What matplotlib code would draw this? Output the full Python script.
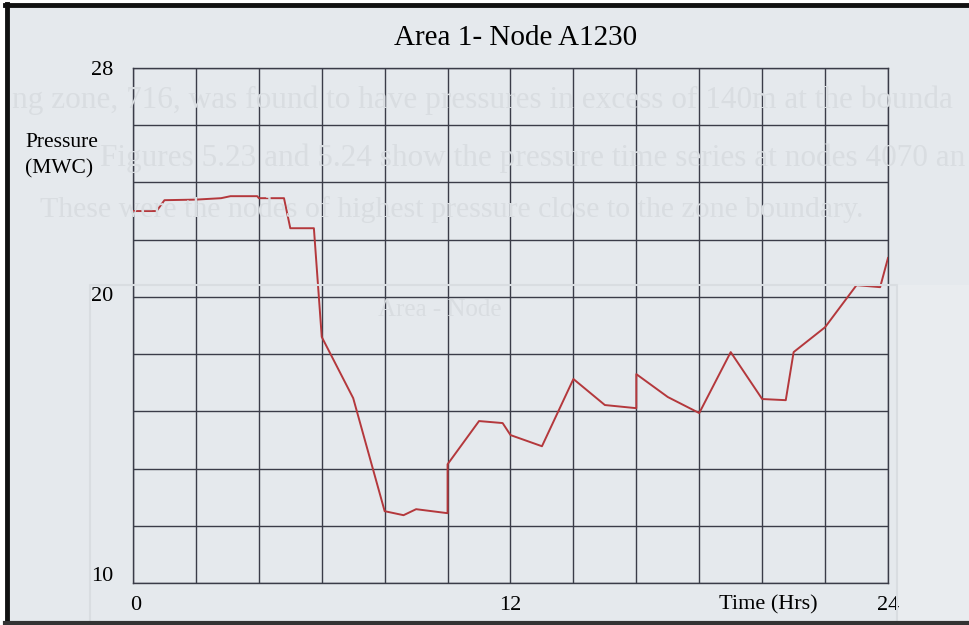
import matplotlib.pyplot as plt
from matplotlib.lines import Line2D

# Pressure readings at node A1230 over one day
hours = [0, 0.75, 1.0, 2.0, 2.8, 3.1, 3.95, 4.0, 4.8, 5.0, 5.75, 6.0, 7.0, 8.0,
         8.6, 9.0, 10.0, 10.0, 11.0, 11.75, 12.0, 13.0, 14.0, 15.0, 16.0, 16.0,
         17.0, 18.0, 19.0, 20.0, 20.75, 21.0, 22.0, 23.0, 23.75, 24.0]
pressure = [23.0, 23.0, 23.38, 23.4, 23.45, 23.52, 23.52, 23.45, 23.45, 22.4, 22.4,
            18.6, 16.46, 12.51, 12.37, 12.58, 12.44, 14.15, 15.66, 15.59, 15.17,
            14.78, 17.13, 16.22, 16.11, 17.3, 16.5, 15.94, 18.07, 16.43, 16.39,
            18.07, 18.94, 20.41, 20.34, 21.36]

y_ticks = [28, 20, 10]
x_ticks = [0, 12, 24]

# faint text showing through from the other side of the page
back_lines = [
    "ng zone, 716, was found to have pressures in excess of 140m at the bounda",
    "Figures 5.23 and 5.24 show the pressure time series at nodes 4070 an",
    "These were the nodes of highest pressure close to the zone boundary.",
]

W, H = 970, 625
fig = plt.figure(figsize=(W / 100, H / 100), dpi=100)
fig.patch.set_facecolor("#e5e9ed")

serif = "Liberation Serif"
ghost = "#d9dde1"

def fx(px):
    return px / W

def fy(py):
    return 1 - py / H

# scanned page edges
fig.add_artist(plt.Rectangle((0, 0), fx(5), 1, transform=fig.transFigure,
                             color="white", zorder=0))
fig.add_artist(plt.Rectangle((0, fy(3)), 1, 1, transform=fig.transFigure,
                             color="white", zorder=0))
fig.add_artist(plt.Rectangle((fx(897), 0), 1, fy(285), transform=fig.transFigure,
                             color="#e9ecef", zorder=0))
fig.add_artist(Line2D([fx(7), fx(7)], [0, fy(4)], transform=fig.transFigure,
                      color="#111111", lw=3.5, zorder=1))
fig.add_artist(Line2D([fx(5), 1], [fy(5), fy(5)], transform=fig.transFigure,
                      color="#111111", lw=3.5, zorder=1))
fig.add_artist(Line2D([fx(5), 1], [fy(623), fy(623)], transform=fig.transFigure,
                      color="#333333", lw=3, zorder=1))

# bleed-through from the reverse side
for (x0, y0, fs), line in zip([(12, 100, 22.5), (100, 158, 22.5), (40, 210, 21.5)],
                              back_lines):
    fig.text(fx(x0), fy(y0), line, fontsize=fs, family=serif, color=ghost,
             va="center", ha="left", zorder=0.5)
fig.text(fx(440), fy(310), "Area - Node", fontsize=18, family=serif, color=ghost,
         va="center", ha="center", zorder=0.5)
fig.add_artist(Line2D([fx(90), fx(90), fx(897), fx(897)], [0, fy(285), fy(285), 0],
                      transform=fig.transFigure, color=ghost, lw=1.5, zorder=0.5))

ax = fig.add_axes([fx(133), fy(583), fx(888) - fx(133), fy(68) - fy(583)])
ax.set_facecolor("none")
ax.set_xlim(0, 24)
ax.set_ylim(10, 28)
ax.set_xticks(range(0, 25, 2))
ax.set_yticks(range(10, 29, 2))
ax.tick_params(length=0, labelbottom=False, labelleft=False)
ax.grid(True, color="#3a3c48", lw=1.0)
for s in ax.spines.values():
    s.set_color("#3a3c48")
    s.set_linewidth(1.0)

ax.plot(hours, pressure, color="#b4383c", lw=1.4, zorder=3)

fig.text(fx(516), fy(38), "Area 1- Node A1230", fontsize=21, family=serif,
         ha="center", va="center")
fig.text(fx(25), fy(142), "Pressure", fontsize=15.5, family=serif,
         ha="left", va="center")
fig.text(fx(25), fy(169), "(MWC)", fontsize=15.5, family=serif,
         ha="left", va="center")

for v in y_ticks:
    off = 5 if v == 10 else (-2 if v == 28 else 0)
    ax.annotate(str(v), (0, v), xytext=(-14, off), textcoords="offset points",
                ha="right", va="center", fontsize=16, family=serif,
                annotation_clip=False)
for h in x_ticks:
    ax.annotate(str(h), (h, 10), xytext=(2 if h == 0 else 0, -16),
                textcoords="offset points", ha="center", va="center",
                fontsize=16, family=serif, annotation_clip=False)
ax.annotate("Time (Hrs)", (20.2, 10), xytext=(0, -16), textcoords="offset points",
            ha="center", va="center", fontsize=16, family=serif,
            annotation_clip=False)

fig.savefig("out.png", dpi=100, facecolor=fig.get_facecolor())
